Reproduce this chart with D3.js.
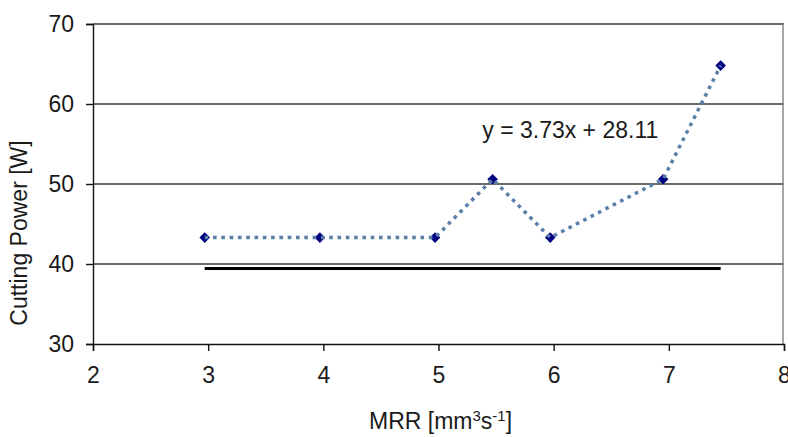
<!DOCTYPE html>
<html>
<head>
<meta charset="utf-8">
<script src="https://cdn.jsdelivr.net/npm/d3@7"></script>
<style>
  html, body { margin: 0; padding: 0; background: #fff; }
  svg { display: block; }
  text { font-family: "Liberation Sans", Arial, sans-serif; fill: #1a1a1a; }
</style>
</head>
<body>
<svg id="chart" width="788" height="437"></svg>
<script>
// Data
const mrr   = [2.97, 3.97, 4.97, 5.47, 5.97, 6.95, 7.45];
const power = [43.3, 43.3, 43.3, 50.6, 43.3, 50.6, 64.8];
const trendX = [2.97, 7.45];
const trendY = [39.45, 39.45];
const xTicks = [2, 3, 4, 5, 6, 7, 8];
const yTicks = [30, 40, 50, 60, 70];
const equation = "y = 3.73x + 28.11";
const eqPos = {x: 5.38, y: 55.75};

const W = 788, H = 437;
const m = {left: 93, right: 4, top: 24, bottom: 93};
const FS = 23;
const svg = d3.select("#chart");

const x = d3.scaleLinear().domain([2, 8]).range([m.left, W - m.right]);
const y = d3.scaleLinear().domain([30, 70]).range([H - m.bottom, m.top]);

// gridlines
svg.append("g")
  .selectAll("line").data(yTicks.filter(d => d > 30)).join("line")
  .attr("x1", x(2)).attr("x2", x(8))
  .attr("y1", d => y(d)).attr("y2", d => y(d))
  .attr("stroke", "#3a3a3a").attr("stroke-width", 1.4);

// right border of plot area
svg.append("line")
  .attr("x1", x(8) - 1).attr("x2", x(8) - 1)
  .attr("y1", y(70)).attr("y2", y(30))
  .attr("stroke", "#8a8a8a").attr("stroke-width", 1.5);

// axes
const xAxis = svg.append("g")
  .attr("transform", `translate(0,${y(30)})`)
  .call(d3.axisBottom(x).tickValues(xTicks).tickSize(7).tickPadding(16).tickFormat(d3.format("d")));
const yAxis = svg.append("g")
  .attr("transform", `translate(${x(2)},0)`)
  .call(d3.axisLeft(y).tickValues(yTicks).tickSize(7).tickPadding(12).tickFormat(d3.format("d")));
[xAxis, yAxis].forEach(g => {
  g.select(".domain").attr("stroke", "#111").attr("stroke-width", 1.4);
  g.selectAll(".tick line").attr("stroke", "#111").attr("stroke-width", 1.4);
  g.selectAll(".tick text").attr("font-size", FS).attr("fill", "#1a1a1a")
    .attr("font-family", "'Liberation Sans', Arial, sans-serif");
});

// horizontal black line
svg.append("path")
  .datum(trendX.map((d, i) => [d, trendY[i]]))
  .attr("d", d3.line().x(d => x(d[0])).y(d => y(d[1])))
  .attr("stroke", "#000").attr("stroke-width", 3).attr("fill", "none");

// markers (square rotated 45deg = flat diamond)
const diamond = d3.symbol().type(d3.symbolSquare).size(56);
svg.append("g").selectAll("path").data(mrr).join("path")
  .attr("d", diamond)
  .attr("transform", (d, i) => `translate(${x(d)},${y(power[i])}) rotate(45)`)
  .attr("fill", "#000080");

// dotted series line
svg.append("path")
  .datum(mrr.map((d, i) => [d, power[i]]))
  .attr("d", d3.line().x(d => x(d[0])).y(d => y(d[1])))
  .attr("stroke", "#5a7fa8").attr("stroke-width", 3.5)
  .attr("stroke-dasharray", "3.6,4.7").attr("fill", "none");

// equation label
svg.append("text")
  .attr("x", x(eqPos.x)).attr("y", y(eqPos.y))
  .attr("font-size", FS)
  .text(equation);

// axis titles
const xt = svg.append("text")
  .attr("x", (x(2) + x(8)) / 2 + 2).attr("y", 429)
  .attr("text-anchor", "middle").attr("font-size", FS);
xt.append("tspan").text("MRR [mm");
xt.append("tspan").attr("font-size", 15).attr("dy", -8).text("3");
xt.append("tspan").attr("font-size", FS).attr("dy", 8).text("s");
xt.append("tspan").attr("font-size", 15).attr("dy", -8).text("-1");
xt.append("tspan").attr("font-size", FS).attr("dy", 8).text("]");

svg.append("text")
  .attr("transform", "translate(27,233) rotate(-90)")
  .attr("text-anchor", "middle").attr("font-size", FS)
  .text("Cutting Power [W]");
</script>
</body>
</html>
